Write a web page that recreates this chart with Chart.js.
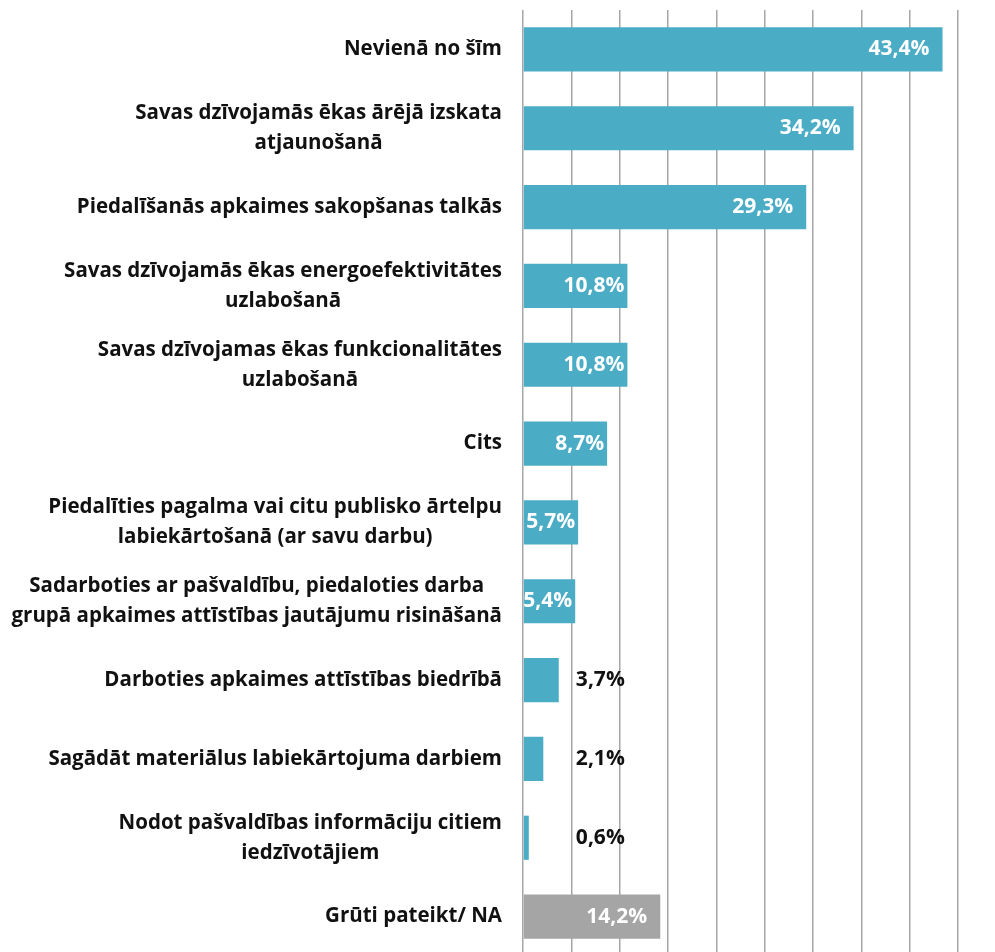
<!DOCTYPE html>
<html>
<head>
<meta charset="utf-8">
<script src="https://cdn.jsdelivr.net/npm/chart.js@4/dist/chart.umd.min.js"></script>
<style>
  html, body { margin: 0; padding: 0; background: #fff; overflow: hidden; }
  #wrap { width: 995px; height: 952px; overflow: hidden; }
</style>
</head>
<body>
<div id="wrap"><canvas id="chart" width="995" height="956"></canvas></div>
<script>
const categories = [
  ['Nevienā no šīm'],
  ['Savas dzīvojamās ēkas ārējā izskata', 'atjaunošanā'],
  ['Piedalīšanās apkaimes sakopšanas talkās'],
  ['Savas dzīvojamās ēkas energoefektivitātes', 'uzlabošanā'],
  ['Savas dzīvojamas ēkas funkcionalitātes', 'uzlabošanā'],
  ['Cits'],
  ['Piedalīties pagalma vai citu publisko ārtelpu', 'labiekārtošanā (ar savu darbu)'],
  ['Sadarboties ar pašvaldību, piedaloties darba', 'grupā apkaimes attīstības jautājumu risināšanā'],
  ['Darboties apkaimes attīstības biedrībā'],
  ['Sagādāt materiālus labiekārtojuma darbiem'],
  ['Nodot pašvaldības informāciju citiem', 'iedzīvotājiem'],
  ['Grūti pateikt/ NA']
]
const values = [43.4, 34.2, 29.3, 10.8, 10.8, 8.7, 5.7, 5.4, 3.7, 2.1, 0.6, 14.2]
const axisMin = 0
const axisMax = 45
const axisStep = 5

const BLUE = '#4BACC6'
const GRAY = '#A5A5A5'
const FONT = '"Open Sans", "Noto Sans", sans-serif'

const fmt = v => v.toFixed(1).replace('.', ',') + '%'

// category labels on the left, lines centred, block right-aligned to the axis
const categoryLabels = {
  id: 'categoryLabels',
  afterDraw (chart) {
    const { ctx, scales: { y } } = chart
    const right = chart.chartArea.left - 21
    const lh = 30
    ctx.save()
    ctx.font = 'bold 20.5px ' + FONT
    ctx.fillStyle = '#111'
    ctx.textBaseline = 'middle'
    ctx.textAlign = 'center'
    categories.forEach((lines, i) => {
      const cy = y.getPixelForValue(i)
      const w = Math.max(...lines.map(l => ctx.measureText(l).width))
      const cx = right - w / 2
      lines.forEach((line, j) => {
        ctx.fillText(line, cx, cy + (j - (lines.length - 1) / 2) * lh)
      })
    })
    ctx.restore()
  }
}

const valueLabels = {
  id: 'valueLabels',
  afterDatasetsDraw (chart) {
    const { ctx, scales: { x } } = chart
    const meta = chart.getDatasetMeta(0)
    ctx.save()
    ctx.font = 'bold 21px ' + FONT
    ctx.textBaseline = 'middle'
    meta.data.forEach((bar, i) => {
      const v = values[i]
      const text = fmt(v)
      if (v < 5) {
        ctx.fillStyle = '#111'
        ctx.textAlign = 'center'
        ctx.fillText(text, x.getPixelForValue(8), bar.y)
      } else {
        const width = bar.x - bar.base
        ctx.fillStyle = '#fff'
        ctx.textAlign = 'right'
        ctx.fillText(text, bar.x - (width > 120 ? 13 : 3), bar.y)
      }
    })
    ctx.restore()
  }
}

new Chart(document.getElementById('chart'), {
  type: 'bar',
  data: {
    labels: categories.map(l => l.join(' ')),
    datasets: [{
      data: values,
      backgroundColor: ctx => ctx.dataIndex === values.length - 1 ? GRAY : BLUE,
      borderWidth: 0,
      categoryPercentage: 1,
      barPercentage: 0.56
    }]
  },
  options: {
    indexAxis: 'y',
    responsive: false,
    animation: false,
    layout: { padding: { left: 523, right: 37, top: 10, bottom: 0 } },
    plugins: { legend: { display: false }, tooltip: { enabled: false } },
    scales: {
      x: {
        min: axisMin,
        max: axisMax,
        ticks: { display: false, stepSize: axisStep },
        grid: { color: '#A6A6A6', lineWidth: 1.5, drawTicks: false },
        border: { display: false }
      },
      y: { display: false }
    }
  },
  plugins: [categoryLabels, valueLabels]
})
</script>
</body>
</html>
